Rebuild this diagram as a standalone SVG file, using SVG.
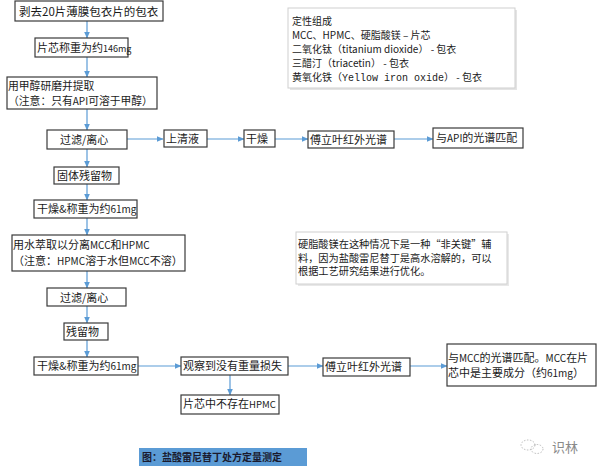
<svg xmlns="http://www.w3.org/2000/svg" width="600" height="472" viewBox="0 0 600 472">
<defs>
<marker id="ah" markerWidth="7" markerHeight="6" refX="6.5" refY="3" orient="auto" markerUnits="userSpaceOnUse">
<path d="M0,0 L7,3 L0,6 Z" fill="#5b9bd5"/>
</marker>
</defs>
<style>
.b{fill:#fff;stroke:#3a3a3a;stroke-width:1.2}
.t{font-family:"Noto Sans CJK SC","Liberation Sans",sans-serif;font-size:11px;fill:#1a1a1a}
.s{font-family:"Noto Sans CJK SC","Liberation Sans",sans-serif;font-size:10px;fill:#1a1a1a}
.c{stroke:#5b9bd5;stroke-width:1.2;fill:none;marker-end:url(#ah)}
.l{font-size:10px}
</style>
<rect width="600" height="472" fill="#fff"/>
<g id="connectors">
<line class="c" x1="87" y1="21" x2="87" y2="38"/>
<line class="c" x1="87" y1="57" x2="87" y2="77"/>
<line class="c" x1="87" y1="109" x2="87" y2="130"/>
<line class="c" x1="87" y1="149" x2="87" y2="167"/>
<line class="c" x1="87" y1="184" x2="87" y2="200"/>
<line class="c" x1="87" y1="218" x2="87" y2="235"/>
<line class="c" x1="87" y1="271" x2="87" y2="288"/>
<line class="c" x1="87" y1="306" x2="87" y2="323"/>
<line class="c" x1="87" y1="340" x2="87" y2="357"/>
<line class="c" x1="127" y1="139" x2="163" y2="139"/>
<line class="c" x1="207" y1="139" x2="244" y2="139"/>
<line class="c" x1="275" y1="139" x2="308" y2="139"/>
<line class="c" x1="394" y1="139" x2="433" y2="139"/>
<line class="c" x1="138" y1="366" x2="181" y2="366"/>
<line class="c" x1="288" y1="366" x2="323" y2="366"/>
<line class="c" x1="410" y1="366" x2="447" y2="366"/>
<line class="c" x1="230" y1="375" x2="230" y2="395"/>
</g>
<g id="n1"><rect class="b" x="15" y="1" width="148" height="20"/><text class="t" x="19" y="15.5" style="font-size:11.5px">剥去20片薄膜包衣片的包衣</text></g>
<g id="n2"><rect class="b" x="35" y="38" width="93" height="19"/><text class="t" x="37" y="51.5">片芯称重为约<tspan style="font-size:9px">146mg</tspan></text></g>
<g id="n3"><rect class="b" x="7" y="77" width="150" height="32"/><text class="t" x="8" y="90" style="font-size:10.8px">用甲醇研磨并提取</text><text class="t" x="8" y="105" style="font-size:10.8px">（注意：只有<tspan class="l">API</tspan>可溶于甲醇）</text></g>
<g id="n4"><rect class="b" x="47" y="130" width="80" height="19"/><text class="t" x="60" y="144">过滤/离心</text></g>
<g id="n5"><rect class="b" x="164" y="130" width="43" height="17"/><text class="t" x="166" y="143">上清液</text></g>
<g id="n6"><rect class="b" x="244" y="130" width="31" height="17"/><text class="t" x="246" y="143">干燥</text></g>
<g id="n7"><rect class="b" x="308" y="131" width="86" height="17"/><text class="t" x="310" y="144">傅立叶红外光谱</text></g>
<g id="n8"><rect class="b" x="433" y="128" width="90" height="20"/><text class="t" x="436" y="142">与<tspan class="l">API</tspan>的光谱匹配</text></g>
<g id="n9"><rect class="b" x="54" y="167" width="65" height="17"/><text class="t" x="57" y="180">固体残留物</text></g>
<g id="n10"><rect class="b" x="34" y="200" width="103" height="18"/><text class="t" x="37" y="213">干燥&amp;称重为约<tspan class="l">61mg</tspan></text></g>
<g id="n11"><rect class="b" x="12" y="235" width="173" height="36"/><text class="t" x="13" y="249">用水萃取以分离<tspan class="l">MCC</tspan>和<tspan class="l">HPMC</tspan></text><text class="t" x="13" y="265">（注意：<tspan class="l">HPMC</tspan>溶于水但<tspan class="l">MCC</tspan>不溶）</text></g>
<g id="n12"><rect class="b" x="47" y="288" width="79" height="18"/><text class="t" x="60" y="302">过滤/离心</text></g>
<g id="n13"><rect class="b" x="64" y="323" width="44" height="17"/><text class="t" x="66" y="335.5">残留物</text></g>
<g id="n14"><rect class="b" x="34" y="357" width="104" height="18"/><text class="t" x="37" y="370">干燥&amp;称重为约<tspan class="l">61mg</tspan></text></g>
<g id="n15"><rect class="b" x="181" y="357" width="107" height="18"/><text class="t" x="183" y="370">观察到没有重量损失</text></g>
<g id="n16"><rect class="b" x="181" y="395" width="98" height="19"/><text class="t" x="183" y="408">片芯中不存在<tspan style="font-size:9.5px">HPMC</tspan></text></g>
<g id="n17"><rect class="b" x="323" y="358" width="87" height="18"/><text class="t" x="325" y="371">傅立叶红外光谱</text></g>
<g id="n18"><rect class="b" x="447" y="344" width="149" height="42"/><text class="t" x="448" y="361.5">与<tspan class="l">MCC</tspan>的光谱匹配。<tspan class="l">MCC</tspan>在片</text><text class="t" x="448" y="377">芯中是主要成分（约<tspan class="l">61mg</tspan>）</text></g>
<g id="info">
<rect x="290" y="10" width="227" height="80" fill="#e4e4e4"/>
<rect x="288" y="8" width="227" height="80" fill="#fff" stroke="#cfcfcf" stroke-width="1"/>
<text class="s" x="292" y="25">定性组成</text>
<text class="s" x="292" y="38.5">MCC、HPMC、硬脂酸镁 – 片芯</text>
<text class="s" x="292" y="52.5">二氧化钛（titanium dioxide） - 包衣</text>
<text class="s" x="292" y="66.5">三醋汀（triacetin） - 包衣</text>
<text class="s" x="292" y="80.5">黄氧化铁（<tspan style="font-family:'Liberation Mono',monospace">Yellow iron oxide</tspan>） - 包衣</text>
</g>
<g id="note">
<rect x="298" y="234" width="211" height="52" fill="#e8e8e8"/>
<rect x="296" y="232" width="211" height="52" fill="#fff" stroke="#d0d0d0" stroke-width="1"/>
<text class="s" x="298" y="248" style="font-size:10.2px">硬脂酸镁在这种情况下是一种“非关键”辅</text>
<text class="s" x="298" y="261.5" style="font-size:10.2px">料，因为盐酸雷尼替丁是高水溶解的，可以</text>
<text class="s" x="298" y="275" style="font-size:10.2px">根据工艺研究结果进行优化。</text>
</g>
<g id="caption">
<rect x="139" y="448" width="168" height="18" fill="#5b9bd5"/>
<text class="s" x="142" y="461" style="font-weight:bold;fill:#1a1a2e">图：盐酸雷尼替丁处方定量测定</text>
</g>
<g id="watermark">
<ellipse cx="528" cy="445" rx="7" ry="5" fill="none" stroke="#aaa" stroke-width="0.8" stroke-dasharray="1.5,1.5"/>
<ellipse cx="537" cy="449" rx="6" ry="4.5" fill="none" stroke="#aaa" stroke-width="0.8" stroke-dasharray="1.5,1.5"/>
<text x="552" y="452" style="font-family:'Noto Sans CJK SC',sans-serif;font-size:13px;fill:#8a8a8a">识林</text>
</g>
</svg>
